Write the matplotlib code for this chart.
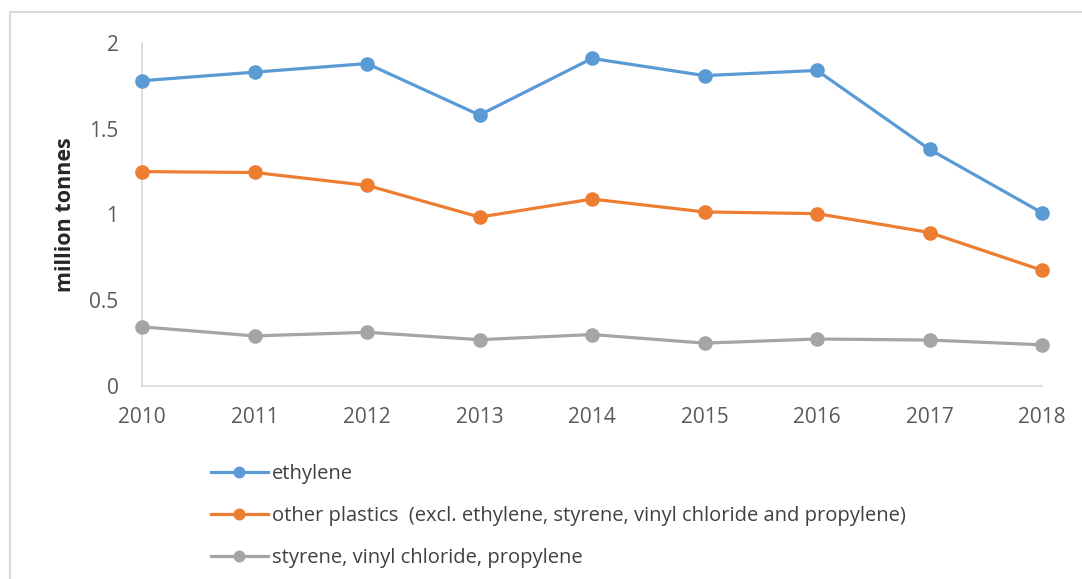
import matplotlib
matplotlib.use("Agg")
import matplotlib.pyplot as plt
from matplotlib.patches import Rectangle

years = [2010, 2011, 2012, 2013, 2014, 2015, 2016, 2017, 2018]
ethylene = [1.78, 1.83, 1.88, 1.58, 1.91, 1.81, 1.84, 1.38, 1.01]
other_plastics = [1.25, 1.245, 1.17, 0.985, 1.09, 1.015, 1.005, 0.895, 0.675]
styrene_vc_prop = [0.345, 0.292, 0.313, 0.27, 0.3, 0.25, 0.274, 0.268, 0.24]

labels = ["ethylene",
          "other plastics  (excl. ethylene, styrene, vinyl chloride and propylene)",
          "styrene, vinyl chloride, propylene"]
colors = ["#5B9BD5", "#ED7D31", "#A5A5A5"]
series = [ethylene, other_plastics, styrene_vc_prop]

plt.rcParams['font.family'] = ['Open Sans', 'DejaVu Sans']
text_col = "#595959"

fig = plt.figure(figsize=(10.82, 5.79), dpi=100)
ax = fig.add_axes([142/1082, 1-386/579, 900/1082, 343/579])

# light outer frame like the original chart area
fig.patches.append(Rectangle((10/1082, -0.05), 1.2, 1.05 - 12/579,
                             transform=fig.transFigure, fill=False,
                             edgecolor="#D9D9D9", linewidth=1.5))

for vals, lab, c in zip(series, labels, colors):
    ax.plot(years, vals, color=c, linewidth=2.3, marker='o', markersize=9.5,
            label=lab, clip_on=False, zorder=3)

ax.set_xlim(2010, 2018)
ax.set_ylim(0, 2)
ax.set_yticks([0, 0.5, 1, 1.5, 2])
ax.set_yticklabels(["0", "0.5", "1", "1.5", "2"])
ax.set_xticks(years)
ax.set_xticklabels([str(y) for y in years])
ax.tick_params(length=0, labelsize=15, colors=text_col)
ax.tick_params(axis='x', pad=15)
ax.tick_params(axis='y', pad=17)
for s in ['top', 'right']:
    ax.spines[s].set_visible(False)
for s in ['left', 'bottom']:
    ax.spines[s].set_color("#D9D9D9")
    ax.spines[s].set_linewidth(1.2)

ax.set_ylabel("million tonnes", fontsize=15.5, fontweight='bold', color="#262626")
ax.yaxis.set_label_coords(-0.073, 0.5)

fig.legend(loc='upper left', bbox_to_anchor=(193/1082, 1-446/579), frameon=False,
           fontsize=14.5, handlelength=2.8, handletextpad=0.2, labelspacing=1.1,
           labelcolor="#404040", markerscale=0.8)

fig.savefig("out.png", dpi=100)
